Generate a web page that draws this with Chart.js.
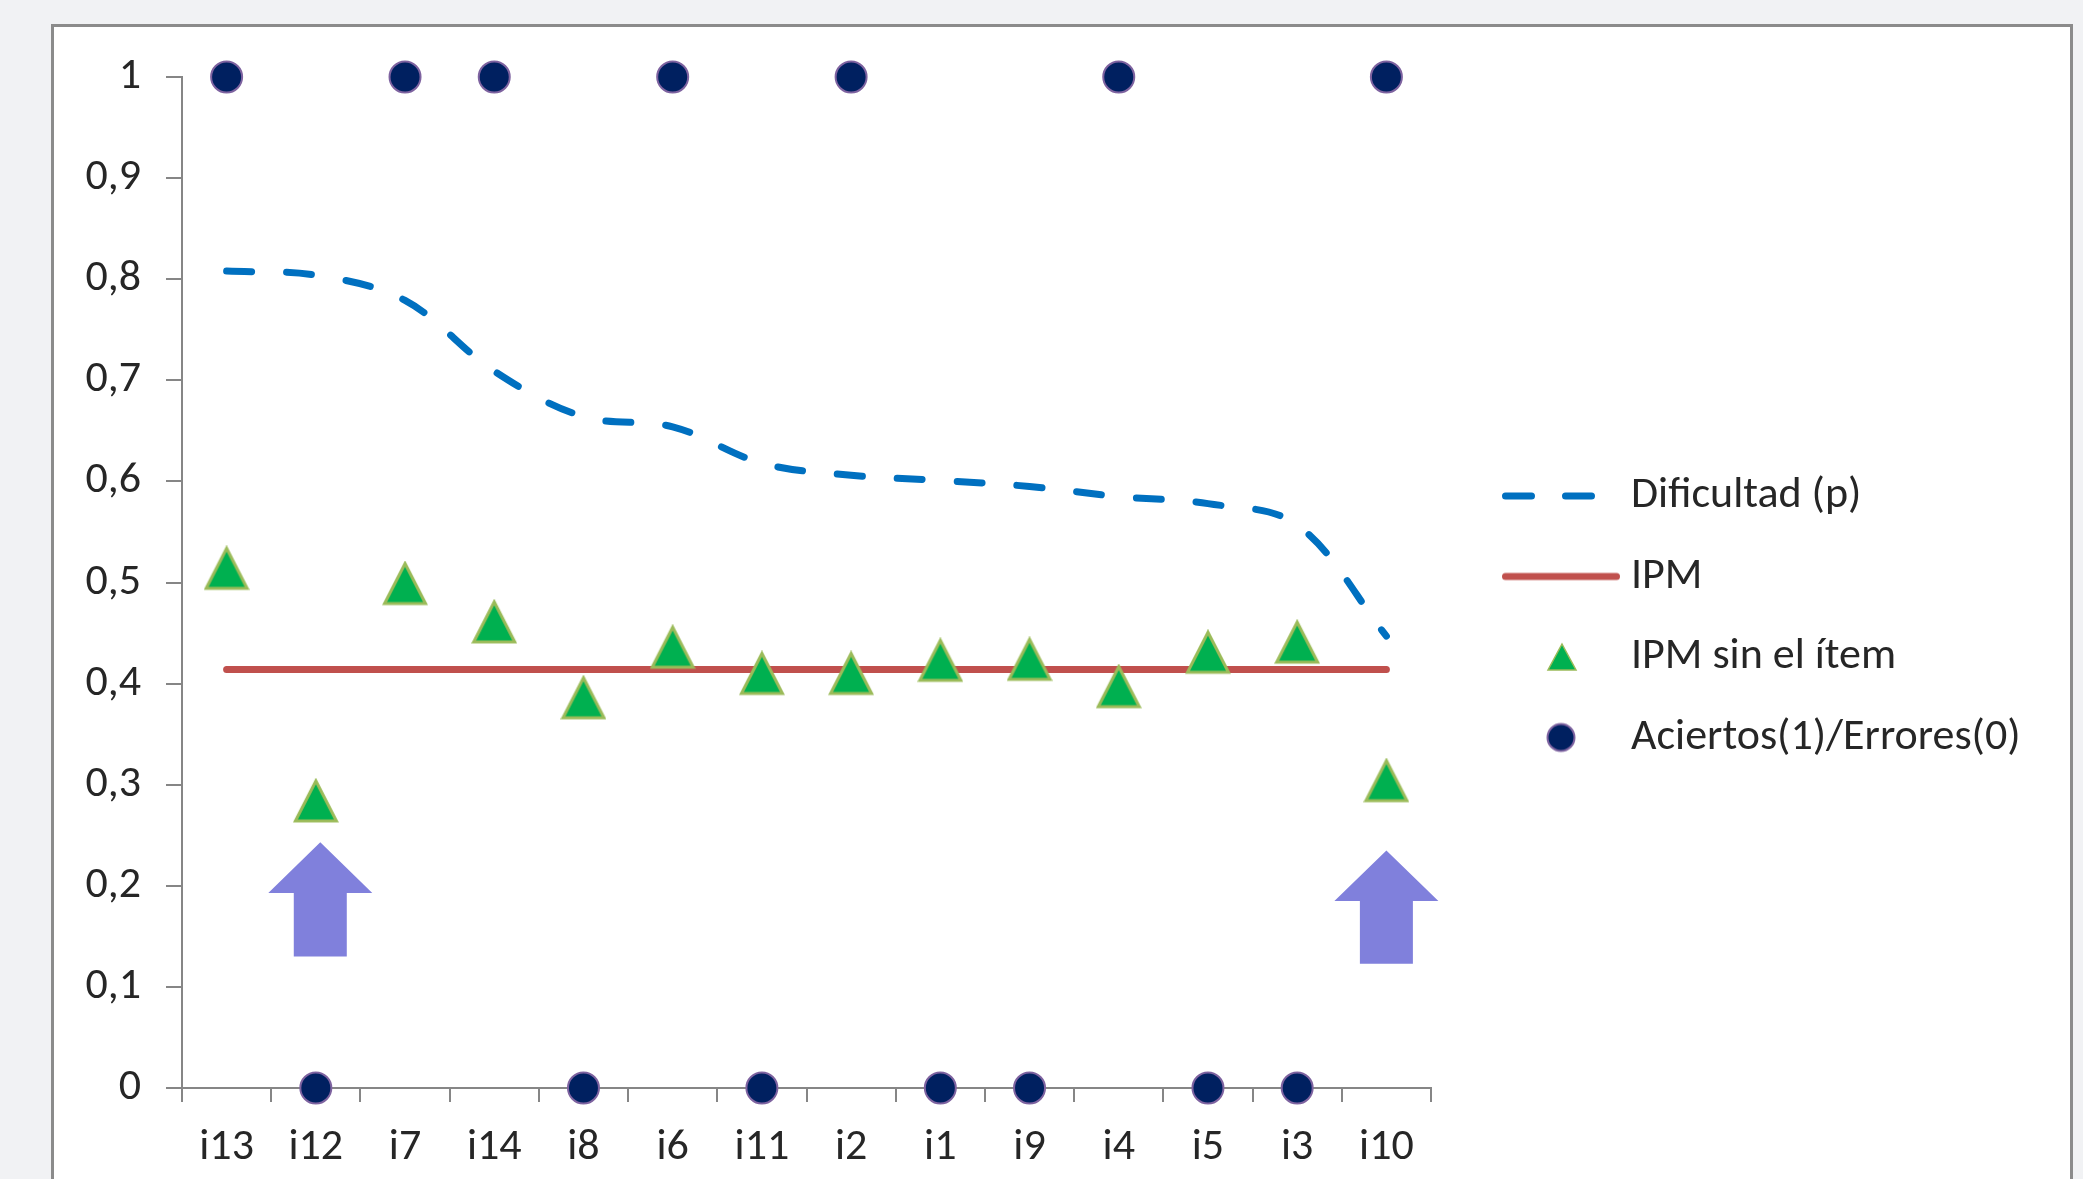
<!DOCTYPE html>
<html><head><meta charset="utf-8">
<script src="https://cdn.jsdelivr.net/npm/chart.js@4/dist/chart.umd.min.js"></script>
<style>
html,body{margin:0;padding:0;width:2083px;height:1179px;overflow:hidden;background:#f1f2f4;}
#frame{position:absolute;left:51px;top:24px;width:2016px;height:1300px;border:3px solid #8b8b8b;background:#fff;}
#wrap{position:absolute;left:0;top:0;width:2083px;height:1179px;}
</style></head><body>
<div id="frame"></div>
<div id="wrap"><canvas id="c" width="2083" height="1179"></canvas></div>
<script>
// ---- data ----
const categories = ['i13','i12','i7','i14','i8','i6','i11','i2','i1','i9','i4','i5','i3','i10'];
const dificultad = [0.808,0.804,0.779,0.709,0.664,0.654,0.618,0.606,0.601,0.595,0.585,0.578,0.557,0.447];
const ipm = [0.414,0.414,0.414,0.414,0.414,0.414,0.414,0.414,0.414,0.414,0.414,0.414,0.414,0.414];
const ipmSinItem = [0.514,0.284,0.499,0.461,0.386,0.436,0.410,0.410,0.423,0.424,0.397,0.431,0.441,0.304];
const aciertos = [1,0,1,1,0,1,0,1,0,0,1,0,0,1];
const yTickLabels = ['0','0,1','0,2','0,3','0,4','0,5','0,6','0,7','0,8','0,9','1'];
const seriesNames = ['Dificultad (p)','IPM','IPM sin el ítem','Aciertos(1)/Errores(0)'];
// annotation arrows (x position in category units, tip value, head-base value, tail value)
const arrowPos = [1.05, 13];
const arrowTip = [0.243,0.235];
const arrowHeadBase = [0.193,0.185];
const arrowTail = [0.130,0.123];

// ---- styles ----
const FAM = 'Carlito, Lato, "Liberation Sans", sans-serif';
const FS = 44;
const TXT = '#262626';
const AXIS = '#868686';
const BLUE = '#0070C0', RED = '#C0504D', GREEN = '#00B050', OLIVE = '#9BBB59', NAVY = '#002060', PURPLE = '#7E63A0', ARROW = '#8080DC';

function mk(w,h,draw){const c=document.createElement('canvas');c.width=w;c.height=h;draw(c.getContext('2d'));return c;}
const triMarker = mk(46,46,g=>{g.beginPath();g.moveTo(23,3);g.lineTo(43.5,43);g.lineTo(2.5,43);g.closePath();g.fillStyle=GREEN;g.fill();g.lineWidth=3;g.strokeStyle=OLIVE;g.lineJoin='miter';g.stroke();});
const icons = [
  mk(150,44,g=>{g.strokeStyle=BLUE;g.lineWidth=7;g.lineCap='round';g.beginPath();g.moveTo(31.5,22);g.lineTo(57.5,22);g.moveTo(91.5,22);g.lineTo(117.5,22);g.stroke();}),
  mk(150,44,g=>{g.strokeStyle=RED;g.lineWidth=7;g.lineCap='round';g.beginPath();g.moveTo(31.5,22);g.lineTo(142.5,22);g.stroke();}),
  mk(150,44,g=>{g.beginPath();g.moveTo(88,9);g.lineTo(102,35);g.lineTo(74,35);g.closePath();g.fillStyle=GREEN;g.fill();g.lineWidth=1.5;g.strokeStyle=OLIVE;g.stroke();}),
  mk(150,44,g=>{g.beginPath();g.arc(87,22,13.5,0,Math.PI*2);g.fillStyle=NAVY;g.fill();g.lineWidth=2;g.strokeStyle=PURPLE;g.stroke();})
];

const mctx = document.createElement('canvas').getContext('2d');
mctx.font = FS + 'px ' + FAM;
const tw = Math.max(...seriesNames.map(n=>mctx.measureText(n).width));
const LEG_PAD = 36.5, BOXW = 120;
const LEG_LEFT = 1452.5;
const padRight = Math.max(0, 2083 - LEG_LEFT - (LEG_PAD + BOXW + FS/2 + tw + 10));

const arrowPlugin = {
  id:'arrows',
  afterDatasetsDraw(chart){
    const {ctx, scales:{x, y}} = chart;
    ctx.save(); ctx.fillStyle = ARROW;
    arrowPos.forEach((p,i)=>{
      const cx = x.getPixelForValue(p);
      const t = y.getPixelForValue(arrowTip[i]), b = y.getPixelForValue(arrowHeadBase[i]), e = y.getPixelForValue(arrowTail[i]);
      const hw = 52, sw = 26.5;
      ctx.beginPath();
      ctx.moveTo(cx,t); ctx.lineTo(cx+hw,b); ctx.lineTo(cx+sw,b); ctx.lineTo(cx+sw,e);
      ctx.lineTo(cx-sw,e); ctx.lineTo(cx-sw,b); ctx.lineTo(cx-hw,b); ctx.closePath(); ctx.fill();
    });
    ctx.restore();
  }
};

new Chart(document.getElementById('c'), {
  type:'line',
  data:{
    labels: categories,
    datasets:[
      {label:seriesNames[0], data:dificultad, borderColor:BLUE, borderWidth:7, borderDash:[25,35], borderCapStyle:'round', tension:0.35, pointRadius:0, fill:false, order:4, clip:false},
      {label:seriesNames[1], data:ipm, borderColor:RED, borderWidth:7, borderCapStyle:'round', tension:0, pointRadius:0, fill:false, order:3, clip:false},
      {label:seriesNames[2], data:ipmSinItem, showLine:false, pointStyle:triMarker, pointRadius:20, order:2, clip:false},
      {label:seriesNames[3], data:aciertos, showLine:false, pointStyle:'circle', pointRadius:15.5, pointBackgroundColor:NAVY, pointBorderColor:PURPLE, pointBorderWidth:2, order:1, clip:false}
    ]
  },
  options:{
    responsive:false, animation:false, events:[],
    layout:{padding:{left:0, top:54.5, right:padRight, bottom:0}},
    scales:{
      x:{
        type:'category', offset:true,
        grid:{offset:true, drawOnChartArea:false, drawTicks:true, tickLength:14, color:AXIS, lineWidth:2},
        border:{display:true, color:AXIS, width:2},
        ticks:{color:TXT, font:{family:FAM, size:FS}, padding:20, maxRotation:0, autoSkip:false},
        afterFit(s){ s.height = 91; }
      },
      y:{
        type:'linear', min:0, max:1,
        grid:{drawOnChartArea:false, drawTicks:true, tickLength:16, color:AXIS, lineWidth:2},
        border:{display:true, color:AXIS, width:2},
        ticks:{stepSize:0.1, color:TXT, font:{family:FAM, size:FS}, padding:25, callback:(v,i)=>yTickLabels[i]},
        afterFit(s){ s.width = 182; }
      },
      y2:{
        type:'linear', position:'right', display:true,
        grid:{display:false, drawTicks:false}, border:{display:false}, ticks:{display:false},
        afterFit(s){ s.width = LEG_LEFT - 1431; }
      }
    },
    plugins:{
      tooltip:{enabled:false},
      title:{display:true, text:'', padding:0, font:{size:18.75, lineHeight:1.2}},
      legend:{
        display:true, position:'right', align:'center', maxWidth:1400,
        labels:{
          usePointStyle:true, pointStyleWidth:BOXW, padding:LEG_PAD, color:TXT,
          font:{family:FAM, size:FS},
          generateLabels:()=>seriesNames.map((n,i)=>({text:n, pointStyle:icons[i], fillStyle:'rgba(0,0,0,0)', strokeStyle:'rgba(0,0,0,0)', lineWidth:0, lineDash:[], hidden:false, datasetIndex:i, fontColor:TXT}))
        }
      }
    }
  },
  plugins:[arrowPlugin]
});
</script>
</body></html>
